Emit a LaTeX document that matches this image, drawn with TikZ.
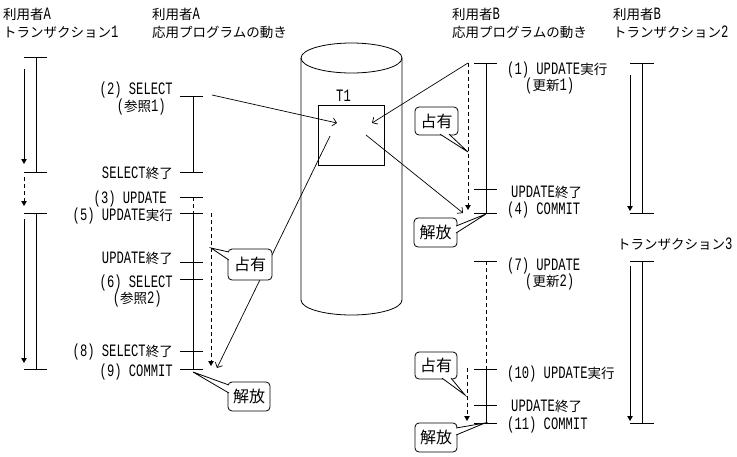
\documentclass[tikz,border=0pt]{standalone}
\usepackage{fontspec}
\setmainfont[FakeStretch=0.7]{Liberation Mono}
\newfontfamily\jpfont{Noto Sans CJK JP}
\usetikzlibrary{arrows.meta}
\newcommand\J[1]{{\jpfont\fontsize{13.5}{16}\selectfont #1}}
\tikzset{
  lbl/.style={inner sep=0pt, text depth=0pt, text height=11pt, font=\fontsize{17.4}{18}\selectfont},
  lblR/.style={lbl, anchor=base east},
  lblL/.style={lbl, anchor=base west},
  ln/.style={line width=0.8pt},
  dsh/.style={ln, dash pattern=on 4pt off 3pt},
  tarrow/.style={ln, -{Triangle[length=5pt,width=5.5pt]}},
  darrow/.style={dsh, -{Triangle[length=5pt,width=5.5pt]}},
  conn/.style={line width=0.7pt, -{Straight Barb[length=4pt,width=8pt]}},
  callout/.style={draw, line width=0.8pt, rounded corners=4pt, inner sep=0pt,
    fill=white, font=\jpfont\fontsize{16}{18}\selectfont},
}
\begin{document}
\begin{tikzpicture}[x=1pt,y=1pt]
\fill[white] (0,0) rectangle (737,-456);
\useasboundingbox (0,0) rectangle (737,-456);

% ---------- headings ----------
\node[lblL] (hA1) at (3,-19.5) {\J{利用者}A};
\node[lblL] (hA2) at (3,-37.5) {\J{トランザクション}1};
\node[lblL] (hB1) at (152,-19.5) {\J{利用者}A};
\node[lblL] (hB2) at (152,-37.5) {\J{応用プログラムの動き}};
\node[lblL] (hC1) at (452,-19.5) {\J{利用者}B};
\node[lblL] (hC2) at (452,-37.5) {\J{応用プログラムの動き}};
\node[lblL] (hD1) at (613,-19.5) {\J{利用者}B};
\node[lblL] (hD2) at (613,-37.5) {\J{トランザクション}2};

% ---------- transaction 1 ----------
\coordinate (t1a) at (36,-57);
\coordinate (t1b) at (36,-172);
\coordinate (t1c) at (36,-213);
\coordinate (t1d) at (36,-369);
\foreach \p in {t1a,t1b,t1c,t1d} \draw[ln] ([xshift=-12pt]\p) -- ([xshift=11pt]\p);
\draw[ln] (t1a) -- (t1b);
\draw[ln] (t1c) -- (t1d);
\coordinate (t1r1s) at (24,-69);  \coordinate (t1r1e) at (24,-164);
\coordinate (t1r2s) at (24,-177); \coordinate (t1r2e) at (24,-206);
\coordinate (t1r3s) at (24,-219); \coordinate (t1r3e) at (24,-363);
\draw[tarrow] (t1r1s) -- (t1r1e);
\draw[darrow] (t1r2s) -- (t1r2e);
\draw[tarrow] (t1r3s) -- (t1r3e);

% ---------- application A ----------
\coordinate (a2) at (193,-96);
\coordinate (a2e) at (193,-172);
\coordinate (a3) at (193,-197);
\coordinate (a5) at (193,-213);
\coordinate (a5e) at (193,-262);
\coordinate (a6) at (193,-279);
\coordinate (a8) at (193,-351);
\coordinate (a9) at (193,-369);
\foreach \p in {a2,a2e,a3,a5,a5e,a6,a8,a9} \draw[ln] ([xshift=-13pt]\p) -- ([xshift=10pt]\p);
\draw[ln] (a2) -- (a2e);
\draw[dsh] (a3) -- (a5);
\draw[ln] (a5) -- (a9);
\coordinate (ads) at (211,-213); \coordinate (ade) at (211,-366);
\draw[darrow] (ads) -- (ade);

\node[lblR] (la2) at (173,-94) {(2) SELECT};
\node[lblR] (la2b) at (166,-111.5) {(\J{参照}1)};
\node[lblR] (la2e) at (173,-178) {SELECT\J{終了}};
\node[lblR] (la3) at (167,-203) {(3) UPDATE};
\node[lblR] (la5) at (173,-220) {(5) UPDATE\J{実行}};
\node[lblR] (la5e) at (173,-263) {UPDATE\J{終了}};
\node[lblR] (la6) at (173,-287) {(6) SELECT};
\node[lblR] (la6b) at (162,-303) {(\J{参照}2)};
\node[lblR] (la8) at (173,-356) {(8) SELECT\J{終了}};
\node[lblR] (la9) at (173,-376) {(9) COMMIT};

% ---------- database cylinder ----------
\draw[ln] (351.5,-58) ellipse[x radius=50.5, y radius=15];
\draw[ln] (301,-58) -- (301,-300) arc[start angle=180, end angle=360, x radius=50.5, y radius=15] -- (402,-58);
\node[draw, ln, minimum width=66pt, minimum height=60pt, inner sep=0pt] (T1) at (351,-135) {};
\node[lbl, anchor=base] (T1l) at (343.5,-101) {T1};

% ---------- application B ----------
\coordinate (b1) at (486,-63);
\coordinate (b1e) at (486,-189);
\coordinate (b4) at (486,-213);
\coordinate (b7) at (486,-261);
\coordinate (b10) at (486,-369);
\coordinate (b10e) at (486,-405);
\coordinate (b11) at (486,-423);
\foreach \p in {b1,b1e,b4,b7,b10,b10e,b11} \draw[ln] ([xshift=-12pt]\p) -- ([xshift=11pt]\p);
\draw[ln] (b1) -- (b4);
\draw[dsh] (b7) -- (b10);
\draw[ln] (b10) -- (b11);
\coordinate (bd1s) at (468,-63);  \coordinate (bd1e) at (468,-210);
\coordinate (bd2s) at (467,-368); \coordinate (bd2e) at (467,-421);
\draw[darrow] (bd1s) -- (bd1e);
\draw[darrow] (bd2s) -- (bd2e);

\node[lblL] (lb1) at (507,-74) {(1) UPDATE\J{実行}};
\node[lblL] (lb1b) at (525,-90) {(\J{更新}1)};
\node[lblL] (lb1e) at (511,-197) {UPDATE\J{終了}};
\node[lblL] (lb4) at (507,-214) {(4) COMMIT};
\node[lblL] (lb7) at (507,-270) {(7) UPDATE};
\node[lblL] (lb7b) at (525,-286) {(\J{更新}2)};
\node[lblL] (lb10) at (507,-378) {(10) UPDATE\J{実行}};
\node[lblL] (lb10e) at (511,-411) {UPDATE\J{終了}};
\node[lblL] (lb11) at (507,-429) {(11) COMMIT};

% ---------- transactions 2 and 3 ----------
\coordinate (t2a) at (642,-63);
\coordinate (t2b) at (642,-213);
\coordinate (t3a) at (642,-261);
\coordinate (t3b) at (642,-423);
\foreach \p in {t2a,t2b,t3a,t3b} \draw[ln] ([xshift=-12pt]\p) -- ([xshift=12pt]\p);
\draw[ln] (t2a) -- (t2b);
\draw[ln] (t3a) -- (t3b);
\coordinate (t2rs) at (630,-75);  \coordinate (t2re) at (630,-211);
\coordinate (t3rs) at (630,-266); \coordinate (t3re) at (630,-421);
\draw[tarrow] (t2rs) -- (t2re);
\draw[tarrow] (t3rs) -- (t3re);
\node[lblL] (ht3) at (617,-249) {\J{トランザクション}3};

% ---------- connectors to / from T1 ----------
\coordinate (c1s) at (212,-95);  \coordinate (c1e) at (337,-123);
\coordinate (c2e) at (372,-123);
\coordinate (c3s) at (330,-136); \coordinate (c3e) at (217,-368);
\coordinate (c4s) at (366,-135); \coordinate (c4e) at (463,-213);
\draw[conn] (c1s) -- (c1e);
\draw[conn] (bd1s) -- (c2e);
\draw[conn] (c3s) -- (c3e);
\draw[conn] (c4s) -- (c4e);

% ---------- callouts ----------
% left 占有
\node[callout, minimum width=44pt, minimum height=31pt] (co1) at (250,-264.5) {占有};
\coordinate (co1t) at (211,-248); \coordinate (co1p) at (228.9,-252); \coordinate (co1q) at (228.9,-260);
\fill[white] (co1p) -- (co1t) -- (co1q) -- cycle;
\draw[ln] (co1p) -- (co1t) -- (co1q);
% left 解放
\node[callout, minimum width=42pt, minimum height=29pt] (co2) at (249,-396.5) {解放};
\coordinate (co2t) at (193,-372); \coordinate (co2p) at (228.9,-385); \coordinate (co2q) at (228.9,-393);
\fill[white] (co2p) -- (co2t) -- (co2q) -- cycle;
\draw[ln] (co2p) -- (co2t) -- (co2q);
% right upper 占有
\node[callout, minimum width=43pt, minimum height=28pt] (co3) at (436.5,-121) {占有};
\coordinate (co3t) at (468,-152); \coordinate (co3p) at (440,-134.1); \coordinate (co3q) at (449,-134.1);
\fill[white] (co3p) -- (co3t) -- (co3q) -- cycle;
\draw[ln] (co3p) -- (co3t) -- (co3q);
% right upper 解放
\node[callout, minimum width=43pt, minimum height=29pt] (co4) at (435.5,-232.5) {解放};
\coordinate (co4t) at (486,-214); \coordinate (co4p) at (456.1,-226); \coordinate (co4q) at (456.1,-233);
\fill[white] (co4p) -- (co4t) -- (co4q) -- cycle;
\draw[ln] (co4p) -- (co4t) -- (co4q);
% right lower 占有
\node[callout, minimum width=42pt, minimum height=27pt] (co5) at (436,-365.5) {占有};
\coordinate (co5t) at (465,-395); \coordinate (co5p) at (442,-378.1); \coordinate (co5q) at (451,-378.1);
\fill[white] (co5p) -- (co5t) -- (co5q) -- cycle;
\draw[ln] (co5p) -- (co5t) -- (co5q);
% right lower 解放
\node[callout, minimum width=42pt, minimum height=29pt] (co6) at (436,-437.5) {解放};
\coordinate (co6t) at (485,-423); \coordinate (co6p) at (456.1,-428); \coordinate (co6q) at (456.1,-435);
\fill[white] (co6p) -- (co6t) -- (co6q) -- cycle;
\draw[ln] (co6p) -- (co6t) -- (co6q);
\end{tikzpicture}
\end{document}
